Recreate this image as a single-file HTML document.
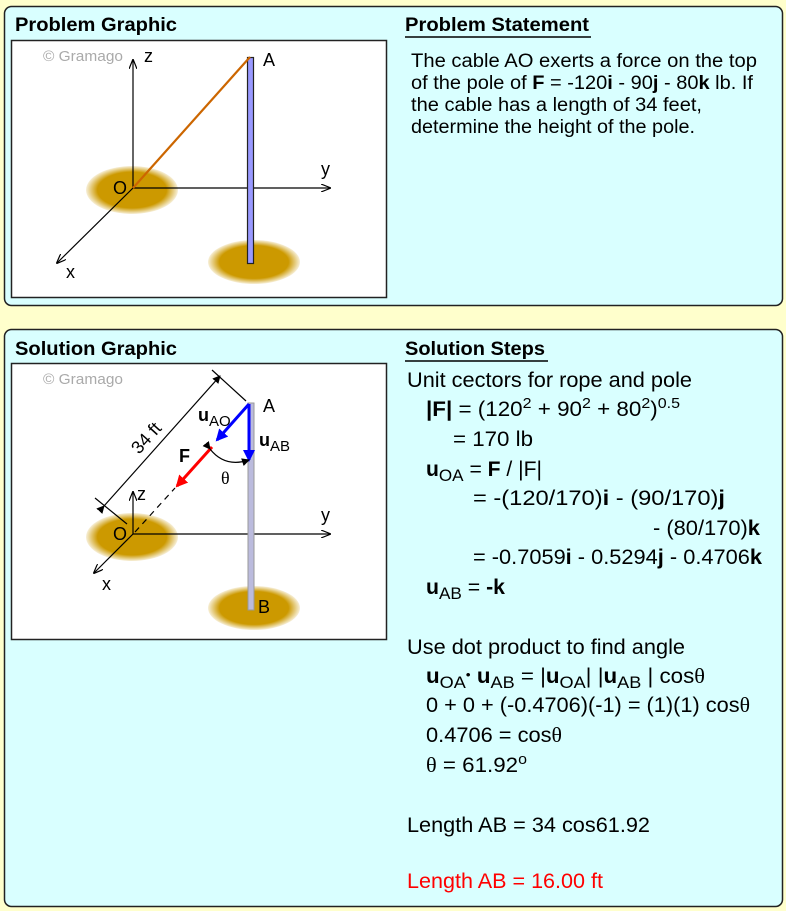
<!DOCTYPE html>
<html><head><meta charset="utf-8"><style>
html,body{margin:0;padding:0;background:#ffffcc;}
svg{display:block;font-family:"Liberation Sans",Arial,sans-serif;}
</style></head><body>
<svg width="786" height="911" viewBox="0 0 786 911" xmlns="http://www.w3.org/2000/svg">
<defs>
<radialGradient id="g" cx="50%" cy="50%" r="50%"><stop offset="75%" stop-color="#cc9900"/><stop offset="100%" stop-color="#cc9900" stop-opacity="0.15"/></radialGradient>
<marker id="ak" markerWidth="10" markerHeight="8" refX="9" refY="4" orient="auto" markerUnits="userSpaceOnUse"><path d="M0,0 L10,4 L0,8" fill="none" stroke="#000" stroke-width="1.2"/></marker>
<marker id="ab" markerWidth="12" markerHeight="12" refX="10" refY="6" orient="auto" markerUnits="userSpaceOnUse"><path d="M0,0 L12,6 L0,12 Z" fill="#0000ff"/></marker>
<marker id="ar" markerWidth="12" markerHeight="12" refX="10" refY="6" orient="auto" markerUnits="userSpaceOnUse"><path d="M0,0 L12,6 L0,12 Z" fill="#ff0000"/></marker>
<marker id="as" markerWidth="8" markerHeight="8" refX="7" refY="4" orient="auto" markerUnits="userSpaceOnUse"><path d="M0,0 L8,4 L0,8 Z" fill="#000"/></marker>
</defs>
<rect x="4.5" y="6.5" width="778" height="299" rx="7" fill="#d9ffff" stroke="#222" stroke-width="1.5"/>
<rect x="4.5" y="329.5" width="778" height="577" rx="7" fill="#d9ffff" stroke="#222" stroke-width="1.5"/>
<g font-weight="bold" font-size="19" lengthAdjust="spacingAndGlyphs">
<text x="15" y="31" textLength="162" lengthAdjust="spacingAndGlyphs">Problem Graphic</text>
<text x="405" y="31" textLength="184" lengthAdjust="spacingAndGlyphs">Problem Statement</text>
<text x="15" y="355" textLength="162" lengthAdjust="spacingAndGlyphs">Solution Graphic</text>
<text x="405" y="355" textLength="140" lengthAdjust="spacingAndGlyphs">Solution Steps</text>
</g>
<line x1="405" y1="37" x2="591" y2="37" stroke="#000" stroke-width="1.5"/>
<line x1="405" y1="361" x2="548" y2="361" stroke="#000" stroke-width="1.5"/>
<g font-size="19">
<text x="411" y="67" textLength="346" lengthAdjust="spacingAndGlyphs">The cable AO exerts a force on the top</text>
<text x="411" y="89" textLength="342" lengthAdjust="spacingAndGlyphs">of the pole of <tspan font-weight="bold">F</tspan> = -120<tspan font-weight="bold">i</tspan> - 90<tspan font-weight="bold">j</tspan> - 80<tspan font-weight="bold">k</tspan> lb. If</text>
<text x="411" y="111" textLength="291" lengthAdjust="spacingAndGlyphs">the cable has a length of 34 feet,</text>
<text x="411" y="133" textLength="284" lengthAdjust="spacingAndGlyphs">determine the height of the pole.</text>
</g>
<!-- graphic 1 -->
<rect x="11.5" y="40.5" width="375" height="257" fill="#fff" stroke="#222" stroke-width="1.5"/>
<text x="43" y="61" font-size="15" fill="#aaa" textLength="80" lengthAdjust="spacingAndGlyphs">© Gramago</text>
<ellipse cx="132" cy="190" rx="46" ry="24" fill="url(#g)"/>
<ellipse cx="254" cy="262" rx="46" ry="22" fill="url(#g)"/>
<line x1="133" y1="188" x2="133" y2="60" stroke="#000" stroke-width="1.2" marker-end="url(#ak)"/>
<line x1="133" y1="188" x2="330" y2="188" stroke="#000" stroke-width="1.2" marker-end="url(#ak)"/>
<line x1="133" y1="188" x2="57" y2="263" stroke="#000" stroke-width="1.2" marker-end="url(#ak)"/>
<rect x="247.5" y="57.5" width="6" height="206" fill="#9999ff" stroke="#222" stroke-width="1.2"/>
<line x1="133" y1="188" x2="250" y2="57" stroke="#cc6600" stroke-width="2.2"/>
<g font-size="18">
<text x="263" y="66">A</text><text x="144" y="62">z</text><text x="321" y="175">y</text><text x="113" y="194">O</text><text x="66" y="278">x</text>
</g>
<!-- graphic 2 -->
<rect x="11.5" y="363.5" width="375" height="276" fill="#fff" stroke="#222" stroke-width="1.5"/>
<text x="43" y="384" font-size="15" fill="#aaa" textLength="80" lengthAdjust="spacingAndGlyphs">© Gramago</text>
<ellipse cx="132" cy="537" rx="46" ry="24" fill="url(#g)"/>
<ellipse cx="254" cy="608" rx="46" ry="22" fill="url(#g)"/>
<line x1="133" y1="534" x2="133" y2="492" stroke="#000" stroke-width="1.2" marker-end="url(#ak)"/>
<line x1="133" y1="534" x2="330" y2="534" stroke="#000" stroke-width="1.2" marker-end="url(#ak)"/>
<line x1="133" y1="534" x2="94" y2="573" stroke="#000" stroke-width="1.2" marker-end="url(#ak)"/>
<rect x="248" y="403" width="6" height="207" fill="#bbbbdd" stroke="#999" stroke-width="1"/>
<line x1="135" y1="532" x2="175" y2="488" stroke="#000" stroke-width="1.2" stroke-dasharray="6,5"/>
<line x1="212" y1="447" x2="177" y2="486" stroke="#ff0000" stroke-width="3" marker-end="url(#ar)"/>
<line x1="249" y1="404" x2="217" y2="440" stroke="#0000ff" stroke-width="3" marker-end="url(#ab)"/>
<line x1="249" y1="404" x2="249" y2="460" stroke="#0000ff" stroke-width="3" marker-end="url(#ab)"/>
<path d="M210,449 Q225,468 249,460" fill="none" stroke="#000" stroke-width="1.2" marker-start="url(#as)" marker-end="url(#as)"/>
<line x1="104" y1="506" x2="220" y2="376" stroke="#000" stroke-width="1.2" marker-start="url(#as)" marker-end="url(#as)"/>
<line x1="95" y1="498" x2="127" y2="524" stroke="#000" stroke-width="1.2"/>
<line x1="212" y1="370" x2="246" y2="401" stroke="#000" stroke-width="1.2"/>
<text x="0" y="0" font-size="18" transform="translate(139,455) rotate(-48)">34 ft</text>
<g font-size="18">
<text x="263" y="412">A</text><text x="258" y="613">B</text><text x="137" y="500">z</text><text x="321" y="521">y</text><text x="113" y="540">O</text><text x="102" y="590">x</text>
<text x="198" y="421" font-weight="bold">u<tspan font-size="15" font-weight="normal" dy="5">AO</tspan></text>
<text x="259" y="446" font-weight="bold">u<tspan font-size="15" font-weight="normal" dy="5">AB</tspan></text>
<text x="179" y="462" font-weight="bold">F</text>
<text x="221" y="484" font-family="Liberation Serif,serif">θ</text>
</g>
<!-- solution steps -->
<g font-size="21">
<text x="407" y="387" textLength="285" lengthAdjust="spacingAndGlyphs">Unit cectors for rope and pole</text>
<text x="426" y="416" textLength="254" lengthAdjust="spacingAndGlyphs"><tspan font-weight="bold">|F|</tspan> = (120<tspan font-size="15" dy="-8">2</tspan><tspan dy="8"> + 90</tspan><tspan font-size="15" dy="-8">2</tspan><tspan dy="8"> + 80</tspan><tspan font-size="15" dy="-8">2</tspan><tspan dy="8">)</tspan><tspan font-size="15" dy="-8">0.5</tspan></text>
<text x="453" y="446" textLength="80" lengthAdjust="spacingAndGlyphs">= 170 lb</text>
<text x="426" y="476" textLength="116" lengthAdjust="spacingAndGlyphs"><tspan font-weight="bold">u</tspan><tspan font-size="17" dy="5">OA</tspan><tspan dy="-5"> = </tspan><tspan font-weight="bold">F</tspan> / |F|</text>
<text x="473" y="505" textLength="252" lengthAdjust="spacingAndGlyphs">= -(120/170)<tspan font-weight="bold">i</tspan> - (90/170)<tspan font-weight="bold">j</tspan></text>
<text x="653" y="535" textLength="107" lengthAdjust="spacingAndGlyphs">- (80/170)<tspan font-weight="bold">k</tspan></text>
<text x="473" y="564" textLength="289" lengthAdjust="spacingAndGlyphs">= -0.7059<tspan font-weight="bold">i</tspan> - 0.5294<tspan font-weight="bold">j</tspan> - 0.4706<tspan font-weight="bold">k</tspan></text>
<text x="426" y="594" textLength="79" lengthAdjust="spacingAndGlyphs"><tspan font-weight="bold">u</tspan><tspan font-size="17" dy="5">AB</tspan><tspan dy="-5"> = </tspan><tspan font-weight="bold">-k</tspan></text>
<text x="407" y="654" textLength="278" lengthAdjust="spacingAndGlyphs">Use dot product to find angle</text>
<text x="426" y="683" textLength="279" lengthAdjust="spacingAndGlyphs"><tspan font-weight="bold">u</tspan><tspan font-size="17" dy="5">OA</tspan><tspan dy="-9" font-size="13">•</tspan><tspan dy="4"> </tspan><tspan font-weight="bold">u</tspan><tspan font-size="17" dy="5">AB</tspan><tspan dy="-5"> = |</tspan><tspan font-weight="bold">u</tspan><tspan font-size="17" dy="5">OA</tspan><tspan dy="-5">| |</tspan><tspan font-weight="bold">u</tspan><tspan font-size="17" dy="5">AB</tspan><tspan dy="-5"> | cos</tspan><tspan font-family="Liberation Serif,serif">θ</tspan></text>
<text x="426" y="712" textLength="324" lengthAdjust="spacingAndGlyphs">0 + 0 + (-0.4706)(-1) = (1)(1) cos<tspan font-family="Liberation Serif,serif">θ</tspan></text>
<text x="426" y="742" textLength="136" lengthAdjust="spacingAndGlyphs">0.4706 = cos<tspan font-family="Liberation Serif,serif">θ</tspan></text>
<text x="426" y="772" textLength="101" lengthAdjust="spacingAndGlyphs"><tspan font-family="Liberation Serif,serif">θ</tspan> = 61.92<tspan font-size="15" dy="-8">o</tspan></text>
<text x="407" y="832" textLength="243" lengthAdjust="spacingAndGlyphs">Length AB = 34 cos61.92</text>
<text x="407" y="888" fill="#ff0000" textLength="196" lengthAdjust="spacingAndGlyphs">Length AB = 16.00 ft</text>
</g>
</svg>
</body></html>
